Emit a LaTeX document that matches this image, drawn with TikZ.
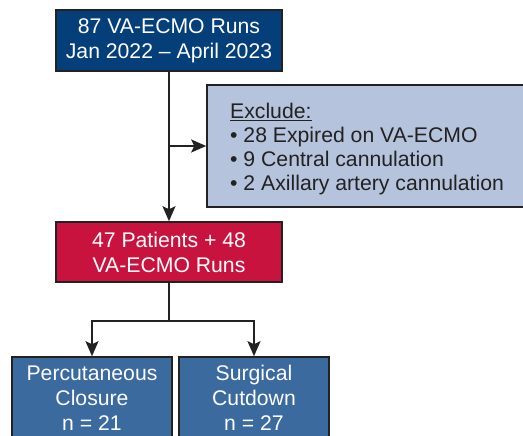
\documentclass[tikz,border=0pt]{standalone}
\usepackage{fontspec}
\setmainfont{Liberation Sans}
\usetikzlibrary{arrows.meta}
\definecolor{topblue}{HTML}{043F79}
\definecolor{redbox}{HTML}{C9133F}
\definecolor{lightblue}{HTML}{B6C3DC}
\definecolor{midblue}{HTML}{3B6A9E}
\definecolor{edge}{HTML}{222222}
\tikzset{
  box/.style={draw=edge, line width=1.6pt, inner sep=0pt, align=center, text=white,
     font=\fontsize{21.2}{25}\selectfont},
  conn/.style={draw=edge, line width=1.6pt, -{Stealth[length=15pt,width=13pt,inset=3pt]}},
  plain/.style={draw=edge, line width=1.6pt}
}
\begin{document}
\begin{tikzpicture}[x=1pt,y=1pt]
\useasboundingbox (0,0) rectangle (523,-436);
\node[box, fill=topblue, minimum width=226pt, minimum height=61pt] (top) at (169,-40.5)
  {87 VA-ECMO Runs\\Jan 2022 -- April 2023};
\node[box, fill=lightblue, minimum width=318pt, minimum height=122pt] (excl) at (366,-146) {};
\node[anchor=west, inner sep=0pt, align=left, text=edge,
  font=\fontsize{21.2}{24}\selectfont] (excltext) at (230,-149)
  {\underline{Exclude:}\\\textbullet\ 28 Expired on VA-ECMO\\\textbullet\ 9 Central cannulation\\\textbullet\ 2 Axillary artery cannulation};
\node[box, fill=redbox, minimum width=226pt, minimum height=60pt] (mid) at (169,-252)
  {47 Patients + 48\\VA-ECMO Runs};
\node[box, fill=midblue, minimum width=160pt, minimum height=82pt] (pc) at (92,-398)
  {Percutaneous\\Closure\\n = 21};
\node[box, fill=midblue, minimum width=150pt, minimum height=82pt] (sc) at (254,-398)
  {Surgical\\Cutdown\\n = 27};
\coordinate (split) at (top.south |- excl.west);
\draw[conn] (top.south) -- (mid.north);
\draw[conn] (split) -- (excl.west);
\draw[plain] (mid.south) -- ++(0,-38) coordinate (fork);
\draw[conn] (fork) -| (pc.north);
\draw[conn] (fork) -| (sc.north);
\end{tikzpicture}
\end{document}
